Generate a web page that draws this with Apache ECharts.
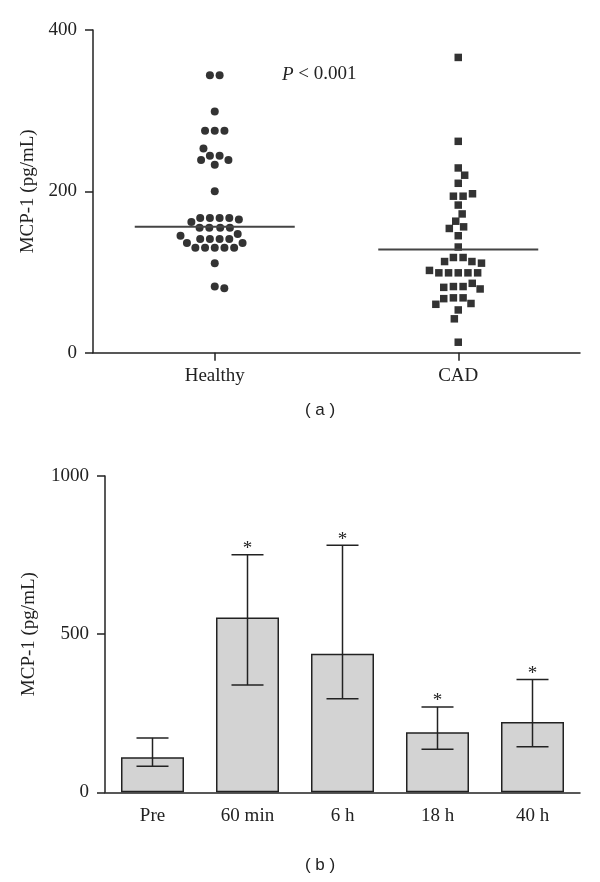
<!DOCTYPE html>
<html><head><meta charset="utf-8">
<script src="https://cdn.jsdelivr.net/npm/echarts@6/dist/echarts.min.js"></script>
<style>html,body{margin:0;padding:0;background:#fff}#c{width:600px;height:882px}</style>
</head><body><div id="c"></div>
<script>
// ---------- Panel (a) data ----------
const groupsA = ['Healthy', 'CAD'];
const healthy = [344, 344, 299, 275, 275, 275, 253, 244, 244, 239, 239, 233, 200,
  167, 167, 167, 167, 165, 162, 155, 155, 155, 155, 147, 145,
  141, 141, 141, 141, 136, 136, 130, 130, 130, 130, 130, 111, 82, 80];
const cad = [366, 262, 229, 220, 210, 194, 194, 197, 183, 172, 163, 156, 154, 145, 131,
  118, 118, 113, 113, 111, 99, 99, 99, 99, 99, 102,
  82, 81, 79, 82, 86, 68, 67, 60, 61, 68, 53, 42, 13];
const centerLine = [156, 128];
// ---------- Panel (b) data ----------
const timepoints = ['Pre', '60 min', '6 h', '18 h', '40 h'];
const meanB = [111, 553, 438, 190, 222];
const upperB = [172, 751, 781, 270, 357];
const lowerB = [82, 339, 296, 136, 144];
const marksB = ['', '*', '*', '*', '*'];

const serif = 'Liberation Serif';
const ink = '#222';

// layout
const gA = {left: 93, top: 30, width: 487, height: 322.7};
const gB = {left: 105, top: 476, width: 475, height: 316.3};
const xMinA = -0.5, xMaxA = 1.5, yMaxA = 400;
const pxX = gA.width / (xMaxA - xMinA);
const pxY = gA.height / yMaxA;

// beeswarm offsets computed from values (pixel collision)
function swarm(values, D) {
  const groups = new Map();
  values.forEach((v, i) => { if (!groups.has(v)) groups.set(v, []); groups.get(v).push(i); });
  const order = [...groups.entries()].sort((a, b) => b[1].length - a[1].length || b[0] - a[0]);
  const placed = [];
  const offs = new Array(values.length).fill(0);
  const ok = (x, y) => placed.every(p => (p.x - x) ** 2 + (p.y - y) ** 2 >= D * D - 1e-6);
  let flip = 1;
  order.forEach(([v, idx]) => {
    const y = v * pxY;
    const cands = (min) => {
      const c = [min];
      placed.forEach(p => {
        const dy = Math.abs(p.y - y);
        if (dy < D) { const h = Math.sqrt(D * D - dy * dy); c.push(p.x + h, p.x - h); }
      });
      return c;
    };
    let k = 0;
    if (idx.length % 2 === 1) {
      const c = cands(0).sort((a, b) => Math.abs(a) - Math.abs(b) || (flip * b - flip * a));
      const x = c.find(x => ok(x, y));
      placed.push({x, y}); offs[idx[0]] = x; k = 1; flip = -flip;
    }
    while (k < idx.length) {
      const c = cands(D / 2).map(Math.abs).filter(s => s >= D / 2 - 1e-9).sort((a, b) => a - b);
      const s = c.find(s => ok(s, y) && ok(-s, y));
      placed.push({x: -s, y}, {x: s, y});
      offs[idx[k]] = -s; offs[idx[k + 1]] = s; k += 2;
    }
  });
  return offs;
}
const D = 9.7;
const offH = swarm(healthy, D);
const offC = swarm(cad, D);

const chart = echarts.init(document.getElementById('c'), null, {renderer: 'canvas'});
const axisLine = {onZero: false, lineStyle: {color: ink, width: 1.5}};
const axisTick = {length: 8, lineStyle: {color: ink, width: 1.5}};
const lab = {color: ink, fontFamily: serif, fontSize: 19};

chart.setOption({
  animation: false,
  backgroundColor: '#fff',
  grid: [
    Object.assign({containLabel: false}, gA),
    Object.assign({containLabel: false}, gB)
  ],
  xAxis: [
    {gridIndex: 0, type: 'value', min: xMinA, max: xMaxA, splitLine: {show: false},
      axisLine: axisLine,
      axisTick: Object.assign({customValues: [0, 1]}, axisTick),
      axisLabel: Object.assign({customValues: [0, 1], margin: 14, formatter: v => groupsA[Math.round(v)]}, lab)},
    {gridIndex: 1, type: 'category', data: timepoints,
      axisLine: axisLine,
      axisTick: Object.assign({alignWithLabel: true}, axisTick),
      axisLabel: Object.assign({margin: 14}, lab)}
  ],
  yAxis: [
    {gridIndex: 0, type: 'value', min: 0, max: 400, interval: 200, splitLine: {show: false},
      axisLine: Object.assign({show: true}, axisLine), axisTick: Object.assign({show: true}, axisTick),
      axisLabel: Object.assign({margin: 16, formatter: v => String(v)}, lab),
      name: 'MCP-1 (pg/mL)', nameLocation: 'middle', nameGap: 55,
      nameTextStyle: {color: ink, fontFamily: serif, fontSize: 19}},
    {gridIndex: 1, type: 'value', min: 0, max: 1000, interval: 500, splitLine: {show: false},
      axisLine: Object.assign({show: true}, axisLine), axisTick: Object.assign({show: true}, axisTick),
      axisLabel: Object.assign({margin: 16, formatter: v => String(v)}, lab),
      name: 'MCP-1 (pg/mL)', nameLocation: 'middle', nameGap: 66,
      nameTextStyle: {color: ink, fontFamily: serif, fontSize: 19}}
  ],
  graphic: [
    {type: 'text', left: 282, top: 65, style: {
      text: '{i|P} < 0.001', fill: ink, font: '19px "Liberation Serif"',
      rich: {i: {fontStyle: 'italic', fontFamily: serif, fontSize: 19, fill: ink}}}},
    {type: 'text', x: 320, y: 410, style: {text: '( a )', fill: ink, font: '17px "Liberation Sans"', textAlign: 'center', textVerticalAlign: 'middle'}},
    {type: 'text', x: 320, y: 865, style: {text: '( b )', fill: ink, font: '17px "Liberation Sans"', textAlign: 'center', textVerticalAlign: 'middle'}}
  ],
  series: [
    {type: 'scatter', xAxisIndex: 0, yAxisIndex: 0, symbol: 'circle', symbolSize: 8,
      itemStyle: {color: '#000'}, data: healthy.map((v, i) => [0 + offH[i] / pxX, v])},
    {type: 'scatter', xAxisIndex: 0, yAxisIndex: 0, symbol: 'rect', symbolSize: 7.5,
      itemStyle: {color: '#000'}, data: cad.map((v, i) => [1 + offC[i] / pxX, v])},
    {type: 'custom', xAxisIndex: 0, yAxisIndex: 0, z: 5,
      data: centerLine.map((v, i) => [i, v]),
      renderItem: (p, api) => {
        const c = api.coord([api.value(0), api.value(1)]);
        return {type: 'line', shape: {x1: c[0] - 80, y1: c[1], x2: c[0] + 80, y2: c[1]},
          style: {stroke: '#444', lineWidth: 2}};
      }},
    {type: 'bar', xAxisIndex: 1, yAxisIndex: 1, data: meanB, barWidth: 63,
      itemStyle: {color: '#d3d3d3', borderColor: ink, borderWidth: 1.5}},
    {type: 'custom', xAxisIndex: 1, yAxisIndex: 1, z: 5,
      data: timepoints.map((t, i) => [i, upperB[i], lowerB[i]]),
      renderItem: (p, api) => {
        const i = api.value(0);
        const top = api.coord([i, api.value(1)]);
        const bot = api.coord([i, api.value(2)]);
        const cw = 16;
        const st = {stroke: ink, lineWidth: 1.5};
        return {type: 'group', children: [
          {type: 'line', shape: {x1: top[0], y1: top[1], x2: bot[0], y2: bot[1]}, style: st},
          {type: 'line', shape: {x1: top[0] - cw, y1: top[1], x2: top[0] + cw, y2: top[1]}, style: st},
          {type: 'line', shape: {x1: bot[0] - cw, y1: bot[1], x2: bot[0] + cw, y2: bot[1]}, style: st},
          {type: 'text', x: top[0], y: top[1] + 4, style: {text: marksB[i], fill: ink,
            font: '19px "Liberation Serif"', textAlign: 'center', textVerticalAlign: 'bottom'}}
        ]};
      }}
  ]
});
</script></body></html>
